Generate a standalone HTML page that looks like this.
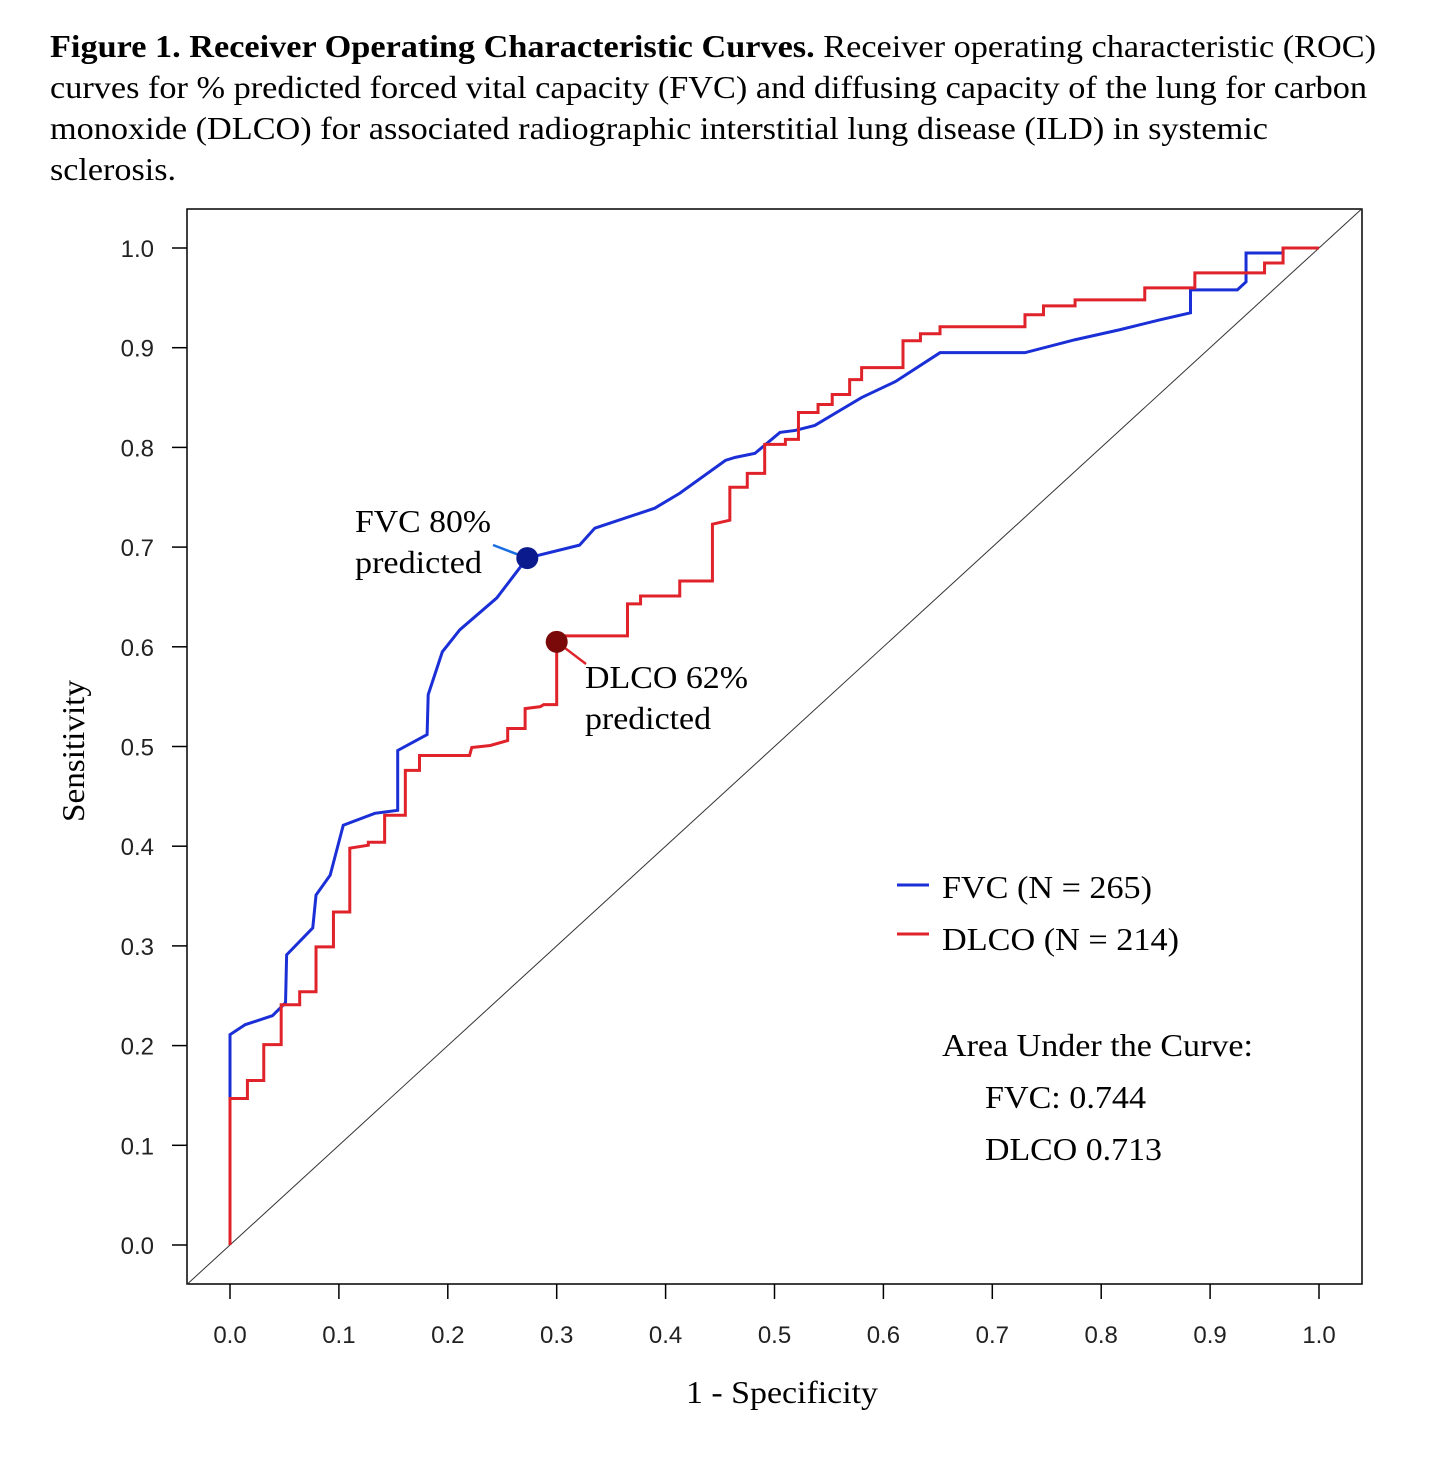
<!DOCTYPE html>
<html><head><meta charset="utf-8"><style>
body{margin:0;background:#fff;width:1440px;height:1467px;overflow:hidden}
svg{display:block}
.serif{font-family:"Liberation Serif",serif;fill:#000}
.sans{font-family:"Liberation Sans",sans-serif;fill:#222}
</style></head><body>
<svg id="chart" width="1440" height="1467">
<g class="serif" font-size="32">
<text x="50" y="57" textLength="1326" lengthAdjust="spacingAndGlyphs"><tspan font-weight="bold">Figure 1. Receiver Operating Characteristic Curves.</tspan> Receiver operating characteristic (ROC)</text>
<text x="50" y="98" textLength="1317" lengthAdjust="spacingAndGlyphs">curves for % predicted forced vital capacity (FVC) and diffusing capacity of the lung for carbon</text>
<text x="50" y="139" textLength="1218" lengthAdjust="spacingAndGlyphs">monoxide (DLCO) for associated radiographic interstitial lung disease (ILD) in systemic</text>
<text x="50" y="180" textLength="126" lengthAdjust="spacingAndGlyphs">sclerosis.</text>
</g>
<rect x="187" y="209" width="1175" height="1075" fill="none" stroke="#000" stroke-width="1.5"/>
<g id="axes"></g>
<g id="marks"></g>
<text class="serif" font-size="32" transform="translate(84,751) rotate(-90)" text-anchor="middle" textLength="142" lengthAdjust="spacingAndGlyphs">Sensitivity</text>
<text class="serif" font-size="32" x="686" y="1403" textLength="192" lengthAdjust="spacingAndGlyphs">1 - Specificity</text>
<g class="serif" font-size="32">
<text x="355" y="532" textLength="136" lengthAdjust="spacingAndGlyphs">FVC 80%</text><text x="355" y="573" textLength="127" lengthAdjust="spacingAndGlyphs">predicted</text>
</g>
<g class="serif" font-size="32">
<text x="585" y="688" textLength="163" lengthAdjust="spacingAndGlyphs">DLCO 62%</text><text x="585" y="729" textLength="126" lengthAdjust="spacingAndGlyphs">predicted</text>
</g>
<g class="serif" font-size="32">
<line x1="897" y1="885" x2="929" y2="885" stroke="#1a2fd6" stroke-width="3"/>
<text x="942" y="898" textLength="210" lengthAdjust="spacingAndGlyphs">FVC (N = 265)</text>
<line x1="897" y1="934" x2="929" y2="934" stroke="#e0232a" stroke-width="3"/>
<text x="942" y="950" textLength="237" lengthAdjust="spacingAndGlyphs">DLCO (N = 214)</text>
</g>
<g class="serif" font-size="32">
<text x="942" y="1056" textLength="311" lengthAdjust="spacingAndGlyphs">Area Under the Curve:</text>
<text x="985" y="1108" textLength="161" lengthAdjust="spacingAndGlyphs">FVC: 0.744</text>
<text x="985" y="1160" textLength="177" lengthAdjust="spacingAndGlyphs">DLCO 0.713</text>
</g>
</svg>
<script>
const ticks=[0,0.1,0.2,0.3,0.4,0.5,0.6,0.7,0.8,0.9,1.0];
const tickLabels=["0.0","0.1","0.2","0.3","0.4","0.5","0.6","0.7","0.8","0.9","1.0"];
const fvcFpr=[0,0,0,0.014,0.039,0.051,0.052,0.076,0.079,0.092,0.104,0.133,0.154,0.154,0.181,0.182,0.195,0.211,0.245,0.268,0.273,0.321,0.335,0.390,0.413,0.455,0.464,0.482,0.505,0.519,0.537,0.560,0.580,0.611,0.652,0.730,0.776,0.817,0.854,0.882,0.882,0.925,0.933,0.933,0.967,0.967,1];
const fvcTpr=[0,0.147,0.211,0.221,0.230,0.243,0.291,0.318,0.351,0.371,0.421,0.433,0.436,0.496,0.512,0.552,0.595,0.617,0.649,0.682,0.689,0.702,0.719,0.739,0.754,0.787,0.790,0.794,0.815,0.817,0.822,0.837,0.850,0.866,0.895,0.895,0.908,0.918,0.928,0.935,0.958,0.958,0.966,0.995,0.995,1,1];
const dlcoFpr=[0,0,0.016,0.016,0.031,0.031,0.047,0.047,0.064,0.064,0.079,0.079,0.095,0.095,0.110,0.110,0.127,0.127,0.142,0.142,0.161,0.161,0.174,0.174,0.220,0.222,0.239,0.255,0.255,0.271,0.271,0.285,0.288,0.300,0.300,0.308,0.365,0.365,0.377,0.377,0.413,0.413,0.443,0.443,0.459,0.459,0.475,0.475,0.491,0.491,0.510,0.510,0.522,0.522,0.540,0.540,0.553,0.553,0.569,0.569,0.580,0.580,0.618,0.618,0.634,0.634,0.652,0.652,0.730,0.730,0.747,0.747,0.776,0.776,0.840,0.840,0.886,0.886,0.950,0.950,0.967,0.967,1];
const dlcoTpr=[0,0.147,0.147,0.165,0.165,0.201,0.201,0.241,0.241,0.254,0.254,0.299,0.299,0.334,0.334,0.398,0.401,0.404,0.404,0.431,0.431,0.476,0.476,0.491,0.491,0.499,0.501,0.506,0.518,0.518,0.538,0.540,0.542,0.542,0.605,0.611,0.611,0.643,0.643,0.651,0.651,0.666,0.666,0.723,0.727,0.760,0.760,0.774,0.774,0.803,0.803,0.808,0.808,0.835,0.835,0.843,0.843,0.853,0.853,0.868,0.868,0.880,0.880,0.907,0.907,0.914,0.914,0.921,0.921,0.933,0.933,0.942,0.942,0.948,0.948,0.960,0.960,0.975,0.975,0.985,0.985,1,1];
const cutoffFvc=[0.273,0.689];
const cutoffDlco=[0.300,0.605];
const NS="http://www.w3.org/2000/svg";
const X=v=>230+v*1089, Y=v=>1245-v*997;
const axes=document.getElementById('axes'), marks=document.getElementById('marks');
function mk(tag,attrs,parent){const e=document.createElementNS(NS,tag);for(const k in attrs)e.setAttribute(k,attrs[k]);parent.appendChild(e);return e;}
ticks.forEach((t,i)=>{
  let l=mk('line',{x1:X(t),x2:X(t),y1:1284,y2:1299,stroke:'#000','stroke-width':1.5},axes);
  
  
  let tx=mk('text',{x:X(t),y:1343,'text-anchor':'middle','font-size':24,class:'sans'},axes);tx.textContent=tickLabels[i];
  
  
  let l2=mk('line',{x1:172,x2:187,y1:Y(t),y2:Y(t),stroke:'#000','stroke-width':1.5},axes);
  
  
  let ty=mk('text',{x:154,y:Y(t)+9,'text-anchor':'end','font-size':24,class:'sans'},axes);ty.textContent=tickLabels[i];
  
  
});
const d0=(187-230)/1089, d1=(1362-230)/1089;
let diag=mk('line',{x1:X(d0),y1:Y(d0),x2:X(d1),y2:Y(d1),stroke:'#333','stroke-width':1},marks);


function path(xs,ys,color,name){
  let p=mk('polyline',{points:xs.map((x,i)=>X(x)+','+Y(ys[i])).join(' '),fill:'none',stroke:color,'stroke-width':3,'stroke-linejoin':'miter'},marks);
  
  
}
path(fvcFpr,fvcTpr,'#1a2fd6','fvc-roc-curve');
path(dlcoFpr,dlcoTpr,'#e0232a','dlco-roc-curve');
let la=mk('line',{x1:493,y1:545,x2:X(cutoffFvc[0])-8,y2:Y(cutoffFvc[1])-3,stroke:'#1a6fe0','stroke-width':2.5},marks);


let lb=mk('line',{x1:X(cutoffDlco[0])+8,y1:Y(cutoffDlco[1])+6,x2:586,y2:664,stroke:'#e0232a','stroke-width':2.5},marks);


let c1=mk('circle',{cx:X(cutoffFvc[0]),cy:Y(cutoffFvc[1]),r:11,fill:'#0b1a8c'},marks);


let c2=mk('circle',{cx:X(cutoffDlco[0]),cy:Y(cutoffDlco[1]),r:11,fill:'#7a0a0a'},marks);


</script>
</body></html>
